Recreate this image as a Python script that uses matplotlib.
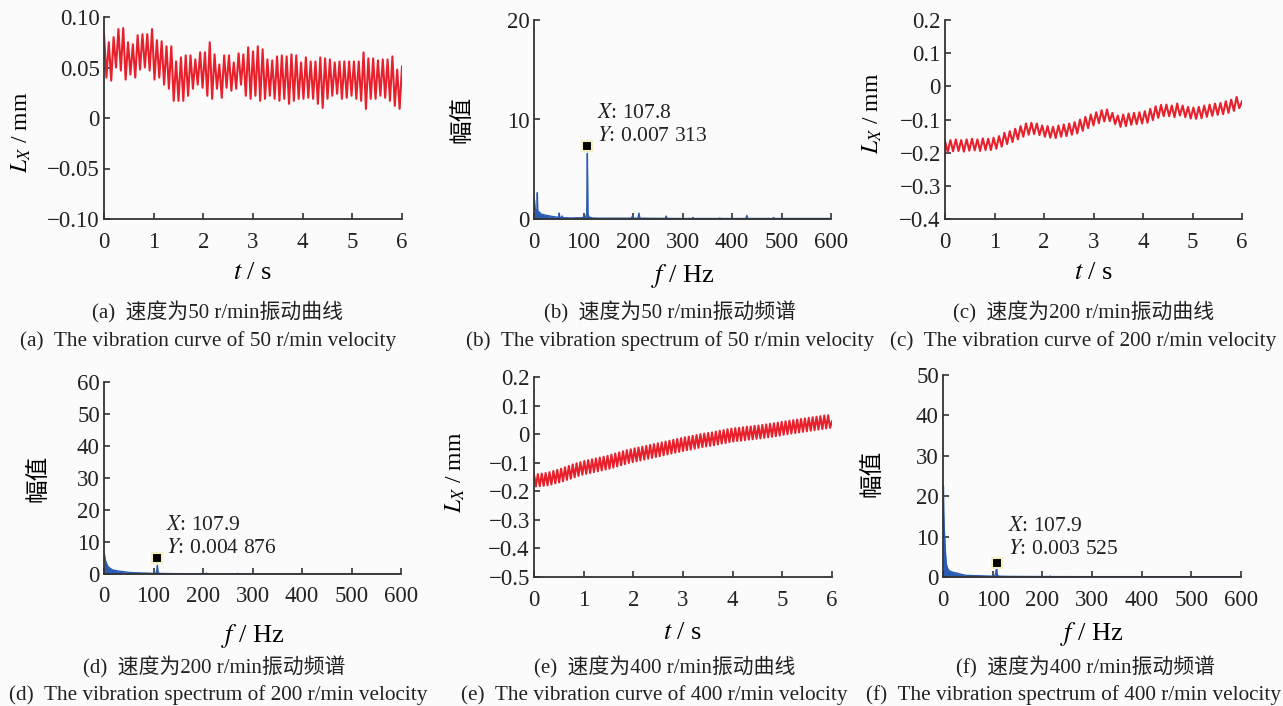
import numpy as np
import matplotlib
matplotlib.use("Agg")
import matplotlib.pyplot as plt

plt.rcParams['font.family'] = ['Liberation Serif', 'Noto Sans CJK SC']
plt.rcParams['mathtext.fontset'] = 'stix'

# ---- vibration curves: alternating peak / trough values (mm) ----
peaks_a = [0.083, 0.075, 0.080, 0.088, 0.089, 0.075, 0.073, 0.082, 0.083, 0.083,
           0.088, 0.077, 0.076, 0.071, 0.071, 0.056, 0.060, 0.062, 0.062, 0.058,
           0.065, 0.065, 0.075, 0.063, 0.053, 0.062, 0.062, 0.055, 0.064, 0.063,
           0.070, 0.066, 0.071, 0.068, 0.058, 0.057, 0.061, 0.062, 0.061, 0.063,
           0.062, 0.055, 0.060, 0.056, 0.056, 0.060, 0.059, 0.058, 0.055, 0.056,
           0.056, 0.056, 0.056, 0.056, 0.065, 0.059, 0.059, 0.057, 0.058, 0.058,
           0.061, 0.048, 0.051]
troughs_a = [0.040, 0.037, 0.050, 0.047, 0.038, 0.043, 0.040, 0.048, 0.050, 0.047,
             0.038, 0.040, 0.033, 0.029, 0.017, 0.017, 0.017, 0.022, 0.029, 0.033,
             0.030, 0.022, 0.019, 0.029, 0.020, 0.030, 0.027, 0.029, 0.033, 0.022,
             0.019, 0.022, 0.017, 0.019, 0.022, 0.019, 0.017, 0.019, 0.014, 0.017,
             0.019, 0.019, 0.020, 0.019, 0.014, 0.010, 0.019, 0.022, 0.024, 0.019,
             0.020, 0.022, 0.019, 0.017, 0.009, 0.019, 0.019, 0.022, 0.020, 0.017,
             0.012, 0.009]

peaks_c = [-0.165, -0.162, -0.160, -0.162, -0.160, -0.158, -0.160, -0.157, -0.158, -0.155,
           -0.150, -0.140, -0.135, -0.128, -0.120, -0.112, -0.110, -0.112, -0.118,
           -0.120, -0.122, -0.118, -0.115, -0.112, -0.108, -0.100, -0.092, -0.085,
           -0.078, -0.072, -0.070, -0.080, -0.088, -0.085, -0.082, -0.080, -0.078, -0.075,
           -0.068, -0.060, -0.056, -0.055, -0.058, -0.052, -0.058, -0.062, -0.064,
           -0.062, -0.058, -0.055, -0.052, -0.050, -0.045, -0.040, -0.032, -0.045]
troughs_c = [-0.198, -0.196, -0.195, -0.197, -0.194, -0.193, -0.195, -0.192, -0.192, -0.188,
             -0.182, -0.174, -0.168, -0.160, -0.152, -0.146, -0.144, -0.147, -0.152,
             -0.155, -0.156, -0.152, -0.150, -0.146, -0.142, -0.134, -0.126, -0.118,
             -0.111, -0.106, -0.105, -0.114, -0.122, -0.120, -0.116, -0.114, -0.112, -0.110,
             -0.102, -0.095, -0.090, -0.090, -0.093, -0.088, -0.093, -0.097, -0.098,
             -0.096, -0.092, -0.089, -0.086, -0.084, -0.080, -0.074, -0.066]

peaks_e = [-0.141, -0.140, -0.138, -0.136, -0.133, -0.129, -0.125,
           -0.121, -0.116, -0.111, -0.106, -0.102, -0.098,
           -0.094, -0.091, -0.088, -0.085, -0.082, -0.079, -0.076,
           -0.072, -0.068, -0.064, -0.060, -0.056, -0.053,
           -0.050, -0.047, -0.044, -0.041, -0.038, -0.035, -0.032,
           -0.029, -0.026, -0.023, -0.020, -0.017, -0.014,
           -0.011, -0.009, -0.006, -0.003, 0.000, 0.002, 0.004,
           0.006, 0.009, 0.012, 0.014, 0.017, 0.019,
           0.021, 0.022, 0.024, 0.026, 0.027, 0.029, 0.030,
           0.032, 0.034, 0.036, 0.038, 0.040, 0.043,
           0.045, 0.047, 0.049, 0.051, 0.053, 0.055, 0.057,
           0.059, 0.061, 0.063, 0.065, 0.066, 0.045]
troughs_e = [-0.183, -0.182, -0.181, -0.179, -0.176, -0.172, -0.169,
             -0.165, -0.160, -0.156, -0.151, -0.146, -0.142,
             -0.139, -0.136, -0.133, -0.130, -0.127, -0.124, -0.121,
             -0.117, -0.113, -0.109, -0.105, -0.101, -0.098,
             -0.095, -0.092, -0.089, -0.086, -0.083, -0.080, -0.077,
             -0.074, -0.071, -0.068, -0.065, -0.062, -0.059,
             -0.056, -0.054, -0.051, -0.048, -0.045, -0.043, -0.041,
             -0.039, -0.036, -0.033, -0.031, -0.028, -0.026,
             -0.024, -0.023, -0.021, -0.019, -0.018, -0.016, -0.015,
             -0.013, -0.011, -0.009, -0.007, -0.005, -0.002,
             0.000, 0.002, 0.004, 0.006, 0.008, 0.010, 0.012,
             0.014, 0.016, 0.018, 0.020, 0.022]

# ---- spectra (amplitude, scaled x1000) ----
freq_b = [0, 1, 2, 3, 4, 5, 6, 6.7, 7.5, 9, 11, 14, 18, 22, 27, 32, 38, 45, 50, 51, 52,
          55, 57, 58, 65, 75, 85, 95, 100, 105, 106.5, 107.8, 109, 111, 118, 130, 150, 175,
          197, 198.7, 200, 210, 212, 214, 240, 265, 267, 269, 295, 319, 321, 323, 350,
          373, 375, 377, 405, 428, 430, 432, 460, 482, 484, 486, 530, 600]
amp_b = [2.0, 1.9, 1.2, 0.8, 0.9, 0.7, 1.0, 2.64, 0.9, 0.6, 0.7, 0.5, 0.45, 0.4, 0.35, 0.3, 0.25, 0.2, 0.15, 0.6, 0.15,
         0.15, 0.3, 0.12, 0.12, 0.1, 0.12, 0.12, 0.15, 0.3, 0.5, 6.6, 0.5, 0.2, 0.1, 0.08, 0.08, 0.08,
         0.08, 0.3, 0.08, 0.08, 0.6, 0.08, 0.07, 0.06, 0.3, 0.06, 0.05, 0.05, 0.15, 0.05, 0.05,
         0.05, 0.1, 0.05, 0.05, 0.05, 0.35, 0.05, 0.05, 0.05, 0.15, 0.05, 0.05, 0.05]

freq_d = [0, 1, 2, 3, 5, 7, 9, 12, 16, 20, 25, 30, 40, 50, 60, 70, 80, 90, 100, 105, 106.5,
          107.9, 109, 111, 120, 150, 200, 206, 207, 208, 250, 268, 270, 272, 350, 450, 600]
amp_d = [6.6, 6.0, 5.0, 4.2, 3.4, 2.6, 2.2, 1.8, 1.4, 1.2, 1.06, 0.9, 0.7, 0.5, 0.4, 0.35, 0.3, 0.25, 0.2, 0.3, 1.0,
         2.7, 0.8, 0.2, 0.15, 0.1, 0.08, 0.08, 0.3, 0.08, 0.06, 0.06, 0.2, 0.06, 0.05, 0.05, 0.05]

freq_f = [0, 0.8, 1.5, 2.5, 3.4, 4.5, 5.5, 6.7, 8, 10, 13, 17, 22, 27, 35, 47, 60, 75, 87, 100,
          105, 106.5, 107.9, 109, 111, 130, 170, 215, 216, 217, 300, 400, 500, 600]
amp_f = [10, 22.5, 16, 12, 10, 7, 5, 3.3, 2.6, 2.0, 1.5, 1.3, 1.1, 1.0, 0.7, 0.4, 0.35, 0.3, 0.25, 0.2,
         0.4, 1.2, 2.5, 0.8, 0.2, 0.15, 0.12, 0.1, 0.25, 0.1, 0.08, 0.08, 0.07, 0.07]

# data tips
tip_b = (107.8, 7.313, 'X: 107.8', 'Y: 0.007 313')
tip_d = (107.9, 4.876, 'X: 107.9', 'Y: 0.004 876')
tip_f = (107.9, 3.525, 'X: 107.9', 'Y: 0.003 525')

t_ticks = [0, 1, 2, 3, 4, 5, 6]
f_ticks = [0, 100, 200, 300, 400, 500, 600]
yt_a = [-0.10, -0.05, 0, 0.05, 0.10]
yl_a = ['\u22120.10', '\u22120.05', '0', '0.05', '0.10']
yt_c = [-0.4, -0.3, -0.2, -0.1, 0, 0.1, 0.2]
yl_c = ['\u22120.4', '\u22120.3', '\u22120.2', '\u22120.1', '0', '0.1', '0.2']
yt_e = [-0.5, -0.4, -0.3, -0.2, -0.1, 0, 0.1, 0.2]
yl_e = ['\u22120.5', '\u22120.4', '\u22120.3', '\u22120.2', '\u22120.1', '0', '0.1', '0.2']

cap_cn = ['(a)  速度为50 r/min振动曲线', '(b)  速度为50 r/min振动频谱', '(c)  速度为200 r/min振动曲线',
          '(d)  速度为200 r/min振动频谱', '(e)  速度为400 r/min振动曲线', '(f)  速度为400 r/min振动频谱']
cap_en = ['(a)  The vibration curve of 50 r/min velocity', '(b)  The vibration spectrum of 50 r/min velocity',
          '(c)  The vibration curve of 200 r/min velocity', '(d)  The vibration spectrum of 200 r/min velocity',
          '(e)  The vibration curve of 400 r/min velocity', '(f)  The vibration spectrum of 400 r/min velocity']

RED = '#e8202c'
BLUE = '#2a5cb2'
BG = '#fbfbfb'
W, H = 1283, 706

fig = plt.figure(figsize=(W / 100, H / 100), dpi=100, facecolor=BG)


def make_ax(l, r, t, b):
    ax = fig.add_axes([l / W, 1 - b / H, (r - l) / W, (b - t) / H], facecolor=BG)
    for s in ['top', 'right']:
        ax.spines[s].set_visible(False)
    for s in ['left', 'bottom']:
        ax.spines[s].set_linewidth(1.3)
        ax.spines[s].set_color('#333333')
    ax.tick_params(direction='in', length=4, width=1.2, colors='#333333',
                   labelcolor='#222222', labelsize=16.5)
    ax.tick_params(axis='x', pad=9)
    ax.tick_params(axis='y', pad=3)
    return ax


def zigzag(peaks, troughs):
    y = np.empty(len(peaks) + len(troughs))
    y[0::2] = peaks
    y[1::2] = troughs
    return np.linspace(0, 6, len(y)), y


def curve_panel(ax, peaks, troughs, yt, yl, lab_xy, xlab_y):
    x, y = zigzag(peaks, troughs)
    ax.plot(x, y, color=RED, lw=1.5)
    ax.set_xlim(0, 6)
    ax.set_ylim(yt[0], yt[-1])
    ax.set_xticks(t_ticks)
    ax.set_yticks(yt)
    ax.set_yticklabels(yl)
    ax.set_ylabel(r'$L_X$ / mm', fontsize=17)
    ax.yaxis.set_label_coords(*lab_xy)
    ax.set_xlabel(r'$t$ / s', fontsize=19)
    ax.xaxis.set_label_coords(0.5, xlab_y)


def spec_panel(ax, freq, amp, ymax, ystep, tip, tip_xy, lab_xy, xlab_y):
    ax.fill_between(freq, amp, 0, color=BLUE, lw=0)
    ax.plot(freq, amp, color=BLUE, lw=1.0)
    ax.plot(tip[0], tip[1], 's', ms=7, mfc='black', mec='#f3eec4', mew=1.5, zorder=5)
    ax.text(tip_xy[0], tip_xy[1], tip[2].replace('X', r'$X$'), fontsize=15.5, va='center', color='#222222')
    ax.text(tip_xy[0], tip_xy[2], tip[3].replace('Y', r'$Y$'), fontsize=15.5, va='center', color='#222222')
    ax.set_xlim(0, 600)
    ax.set_ylim(0, ymax)
    ax.set_xticks(f_ticks)
    ax.set_yticks(np.arange(0, ymax + 1, ystep))
    ax.set_ylabel('幅值', fontsize=17, family=['Noto Sans CJK SC'])
    ax.yaxis.set_label_coords(*lab_xy)
    ax.set_xlabel(r'$f$ / Hz', fontsize=19)
    ax.xaxis.set_label_coords(0.5, xlab_y)


ax_a = make_ax(104, 402, 17, 219)
curve_panel(ax_a, peaks_a, troughs_a, yt_a, yl_a, (-0.238, 0.43), -0.213)

ax_b = make_ax(534, 831, 20, 219)
spec_panel(ax_b, freq_b, amp_b, 20, 10, tip_b, (127, 10.65, 8.25), (-0.205, 0.5), -0.216)

ax_c = make_ax(945, 1242, 20, 219)
curve_panel(ax_c, peaks_c, troughs_c, yt_c, yl_c, (-0.205, 0.53), -0.216)

ax_d = make_ax(104, 401, 382, 574)
spec_panel(ax_d, freq_d, amp_d, 60, 10, tip_d, (125, 15.3, 8.1), (-0.182, 0.5), -0.25)

ax_e = make_ax(534, 832, 377, 577)
curve_panel(ax_e, peaks_e, troughs_e, yt_e, yl_e, (-0.225, 0.525), -0.225)

ax_f = make_ax(943, 1241, 375, 577)
spec_panel(ax_f, freq_f, amp_f, 50, 10, tip_f, (131, 12.4, 6.7), (-0.201, 0.515), -0.213)

# captions
cap_x = [218, 670, 1084, 214, 665, 1085]
cap_x_en = [208, 670, 1083, 218, 654, 1073]
for i in range(6):
    ycn = 312 if i < 3 else 667
    yen = 341 if i < 3 else 695
    fig.text(cap_x[i] / W, 1 - ycn / H, cap_cn[i], ha='center', va='center', fontsize=15, color='#222222')
    fig.text(cap_x_en[i] / W, 1 - yen / H, cap_en[i], ha='center', va='center', fontsize=15.3, color='#222222')

fig.savefig('out.png', dpi=100, facecolor=BG)
